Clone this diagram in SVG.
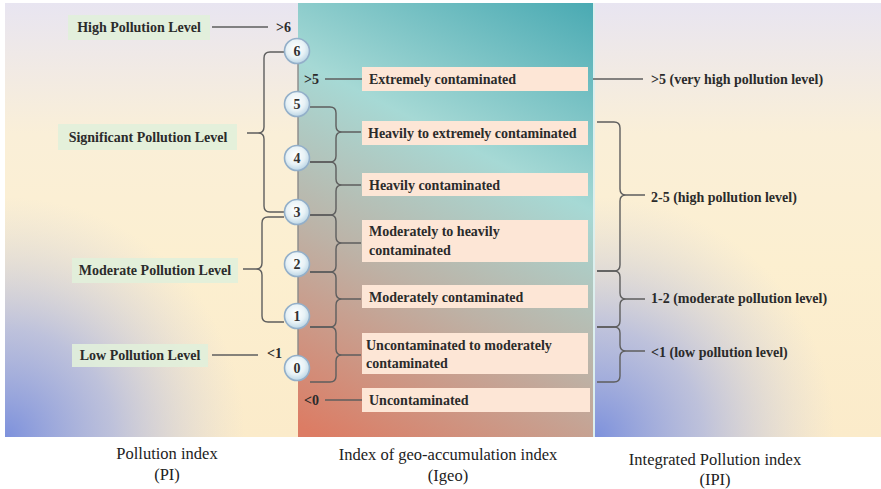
<svg xmlns="http://www.w3.org/2000/svg" width="881" height="489" viewBox="0 0 881 489">
  <defs>
    <linearGradient id="sideBase" x1="0" y1="0" x2="0" y2="1">
      <stop offset="0" stop-color="#e8e5f1"/>
      <stop offset="0.3" stop-color="#faefd8"/>
      <stop offset="0.6" stop-color="#fcefd0"/>
      <stop offset="1" stop-color="#fbebca"/>
    </linearGradient>
    <radialGradient id="blueLeft" gradientUnits="userSpaceOnUse" cx="5" cy="437" r="240">
      <stop offset="0" stop-color="#7d91dc" stop-opacity="1"/>
      <stop offset="0.45" stop-color="#a9b3e0" stop-opacity="0.75"/>
      <stop offset="1" stop-color="#cfd0de" stop-opacity="0"/>
    </radialGradient>
    <radialGradient id="blueRight" gradientUnits="userSpaceOnUse" cx="595" cy="437" r="240">
      <stop offset="0" stop-color="#7d91dc" stop-opacity="1"/>
      <stop offset="0.45" stop-color="#a9b3e0" stop-opacity="0.75"/>
      <stop offset="1" stop-color="#cfd0de" stop-opacity="0"/>
    </radialGradient>
    <linearGradient id="igeoBg" gradientUnits="userSpaceOnUse" x1="560" y1="-30" x2="320" y2="437">
      <stop offset="0" stop-color="#42a6b0"/>
      <stop offset="0.38" stop-color="#a6d9d5"/>
      <stop offset="0.66" stop-color="#bdb2a6"/>
      <stop offset="1" stop-color="#dc7c64"/>
    </linearGradient>
    <radialGradient id="bubble" cx="0.45" cy="0.4" r="0.6">
      <stop offset="0" stop-color="#ffffff"/>
      <stop offset="0.6" stop-color="#e8f2f6"/>
      <stop offset="1" stop-color="#bcd6e6"/>
    </radialGradient>
  </defs>
  <style>
    .lbl { font-family: "Liberation Serif", "Times New Roman", serif; font-size: 14px; font-weight: bold; fill: #2b2b2b; }
    .mid { text-anchor: middle; }
    .cap { font-family: "Liberation Serif", "Times New Roman", serif; font-size: 16.5px; fill: #222; text-anchor: middle; }
    .num { font-family: "Liberation Serif", "Times New Roman", serif; font-size: 14px; font-weight: bold; fill: #333; text-anchor: middle; }
    .green { fill: #e1f0da; opacity: 0.9; }
    .peach { fill: #fde6d6; }
    .ln { fill: none; stroke: #5e5e5e; stroke-width: 1.4; }
    .node { fill: url(#bubble); stroke: #93afc9; stroke-width: 1.6; }
  </style>

  <!-- panel backgrounds -->
  <g id="backgrounds">
    <rect x="5" y="3" width="293" height="434" fill="url(#sideBase)"/>
    <rect x="5" y="3" width="293" height="434" fill="url(#blueLeft)"/>
    <rect x="298" y="3" width="296" height="434" fill="url(#igeoBg)"/>
    <rect x="595" y="3" width="286" height="434" fill="url(#sideBase)"/>
    <rect x="595" y="3" width="286" height="434" fill="url(#blueRight)"/>
    <line x1="594" y1="3" x2="594" y2="437" stroke="#dcefee" stroke-width="2"/>
  </g>

  <!-- connectors -->
  <g id="connectors" class="ln">
    <line x1="298" y1="51" x2="298" y2="368" stroke="#8a8a8a"/>
    <line x1="212" y1="27" x2="268" y2="27"/>
    <line x1="212" y1="355" x2="258" y2="355"/>
    <line x1="325" y1="79" x2="363" y2="79"/>
    <line x1="325" y1="400" x2="362" y2="400"/>
    <line x1="593" y1="79" x2="643" y2="79"/>
    <!-- PI braces (tip pointing left) -->
    <path d="M284 52 H270 Q264 52 264 58 V127 Q264 133 258 133 H247 M258 133 Q264 133 264 139 V206 Q264 212 270 212 H284"/>
    <path d="M284 217 H268 Q262 217 262 223 V263 Q262 269 256 269 H243 M256 269 Q262 269 262 275 V316 Q262 322 268 322 H284"/>
    <!-- Igeo braces (tip pointing right) -->
    <path d="M310 107 H330 Q336 107 336 113 V126 Q336 132 342 132 H361 M342 132 Q336 132 336 138 V156 Q336 162 330 162 H310"/>
    <path d="M310 162 H330 Q336 162 336 168 V179 Q336 185 342 185 H361 M342 185 Q336 185 336 191 V209 Q336 215 330 215 H310"/>
    <path d="M310 215 H330 Q336 215 336 221 V237 Q336 243 342 243 H361 M342 243 Q336 243 336 249 V266 Q336 272 330 272 H310"/>
    <path d="M310 272 H330 Q336 272 336 278 V293 Q336 299 342 299 H361 M342 299 Q336 299 336 305 V321 Q336 327 330 327 H310"/>
    <path d="M310 327 H330 Q336 327 336 333 V349 Q336 355 342 355 H361 M342 355 Q336 355 336 361 V376 Q336 382 330 382 H310"/>
    <!-- IPI braces (tip pointing right) -->
    <path d="M597 122 H614 Q620 122 620 128 V189 Q620 195 626 195 H645 M626 195 Q620 195 620 201 V265 Q620 271 614 271 H597"/>
    <path d="M597 271 H614 Q620 271 620 277 V293 Q620 299 626 299 H645 M626 299 Q620 299 620 305 V321 Q620 327 614 327 H597"/>
    <path d="M597 327 H614 Q620 327 620 333 V345 Q620 351 626 351 H645 M626 351 Q620 351 620 357 V376 Q620 382 614 382 H597"/>
  </g>

  <!-- PI scale nodes -->
  <g id="pi-6"><circle class="node" cx="297" cy="51" r="12.5"/><text class="num" x="297" y="56">6</text></g>
  <g id="pi-5"><circle class="node" cx="297" cy="104" r="12.5"/><text class="num" x="297" y="109">5</text></g>
  <g id="pi-4"><circle class="node" cx="297" cy="158" r="12.5"/><text class="num" x="297" y="163">4</text></g>
  <g id="pi-3"><circle class="node" cx="297" cy="212" r="12.5"/><text class="num" x="297" y="217">3</text></g>
  <g id="pi-2"><circle class="node" cx="297" cy="264" r="12.5"/><text class="num" x="297" y="269">2</text></g>
  <g id="pi-1"><circle class="node" cx="297" cy="316" r="12.5"/><text class="num" x="297" y="321">1</text></g>
  <g id="pi-0"><circle class="node" cx="297" cy="368" r="12.5"/><text class="num" x="297" y="373">0</text></g>

  <!-- PI levels -->
  <g id="pi-high"><rect class="green" x="68" y="15" width="142" height="25"/><text class="lbl mid" x="139" y="32">High Pollution Level</text><text class="lbl" x="276" y="32">&gt;6</text></g>
  <g id="pi-significant"><rect class="green" x="58" y="124" width="179" height="26"/><text class="lbl mid" x="148" y="142">Significant Pollution Level</text></g>
  <g id="pi-moderate"><rect class="green" x="72" y="258" width="166" height="25"/><text class="lbl mid" x="155" y="275">Moderate Pollution Level</text></g>
  <g id="pi-low"><rect class="green" x="72" y="344" width="136" height="23"/><text class="lbl mid" x="140" y="360">Low Pollution Level</text><text class="lbl" x="267" y="358">&lt;1</text></g>

  <!-- Igeo classes -->
  <g id="igeo-6"><text class="lbl" x="304" y="84">&gt;5</text><rect class="peach" x="362" y="67" width="226" height="24"/><text class="lbl" x="369" y="84">Extremely contaminated</text></g>
  <g id="igeo-5"><rect class="peach" x="362" y="121" width="226" height="24"/><text class="lbl" x="368" y="138">Heavily to extremely contaminated</text></g>
  <g id="igeo-4"><rect class="peach" x="362" y="173" width="226" height="23"/><text class="lbl" x="369" y="190">Heavily contaminated</text></g>
  <g id="igeo-3"><rect class="peach" x="362" y="220" width="226" height="42"/><text class="lbl" x="369" y="236">Moderately to heavily</text><text class="lbl" x="369" y="255">contaminated</text></g>
  <g id="igeo-2"><rect class="peach" x="362" y="285" width="226" height="23"/><text class="lbl" x="369" y="302">Moderately contaminated</text></g>
  <g id="igeo-1"><rect class="peach" x="362" y="333" width="226" height="41"/><text class="lbl" x="366" y="350">Uncontaminated to moderately</text><text class="lbl" x="366" y="368">contaminated</text></g>
  <g id="igeo-0"><text class="lbl" x="304" y="405">&lt;0</text><rect class="peach" x="362" y="388" width="228" height="24"/><text class="lbl" x="369" y="405">Uncontaminated</text></g>

  <!-- IPI classes -->
  <g id="ipi-very-high"><text class="lbl" x="651" y="84">&gt;5 (very high pollution level)</text></g>
  <g id="ipi-high"><text class="lbl" x="651" y="202">2-5 (high pollution level)</text></g>
  <g id="ipi-moderate"><text class="lbl" x="651" y="303">1-2 (moderate pollution level)</text></g>
  <g id="ipi-low"><text class="lbl" x="651" y="357">&lt;1 (low pollution level)</text></g>

  <!-- column captions -->
  <g id="captions">
    <text class="cap" x="167" y="459">Pollution index</text>
    <text class="cap" x="167" y="480">(PI)</text>
    <text class="cap" x="448" y="460">Index of geo-accumulation index</text>
    <text class="cap" x="448" y="481">(Igeo)</text>
    <text class="cap" x="715" y="465">Integrated Pollution index</text>
    <text class="cap" x="715" y="485">(IPI)</text>
  </g>
</svg>
